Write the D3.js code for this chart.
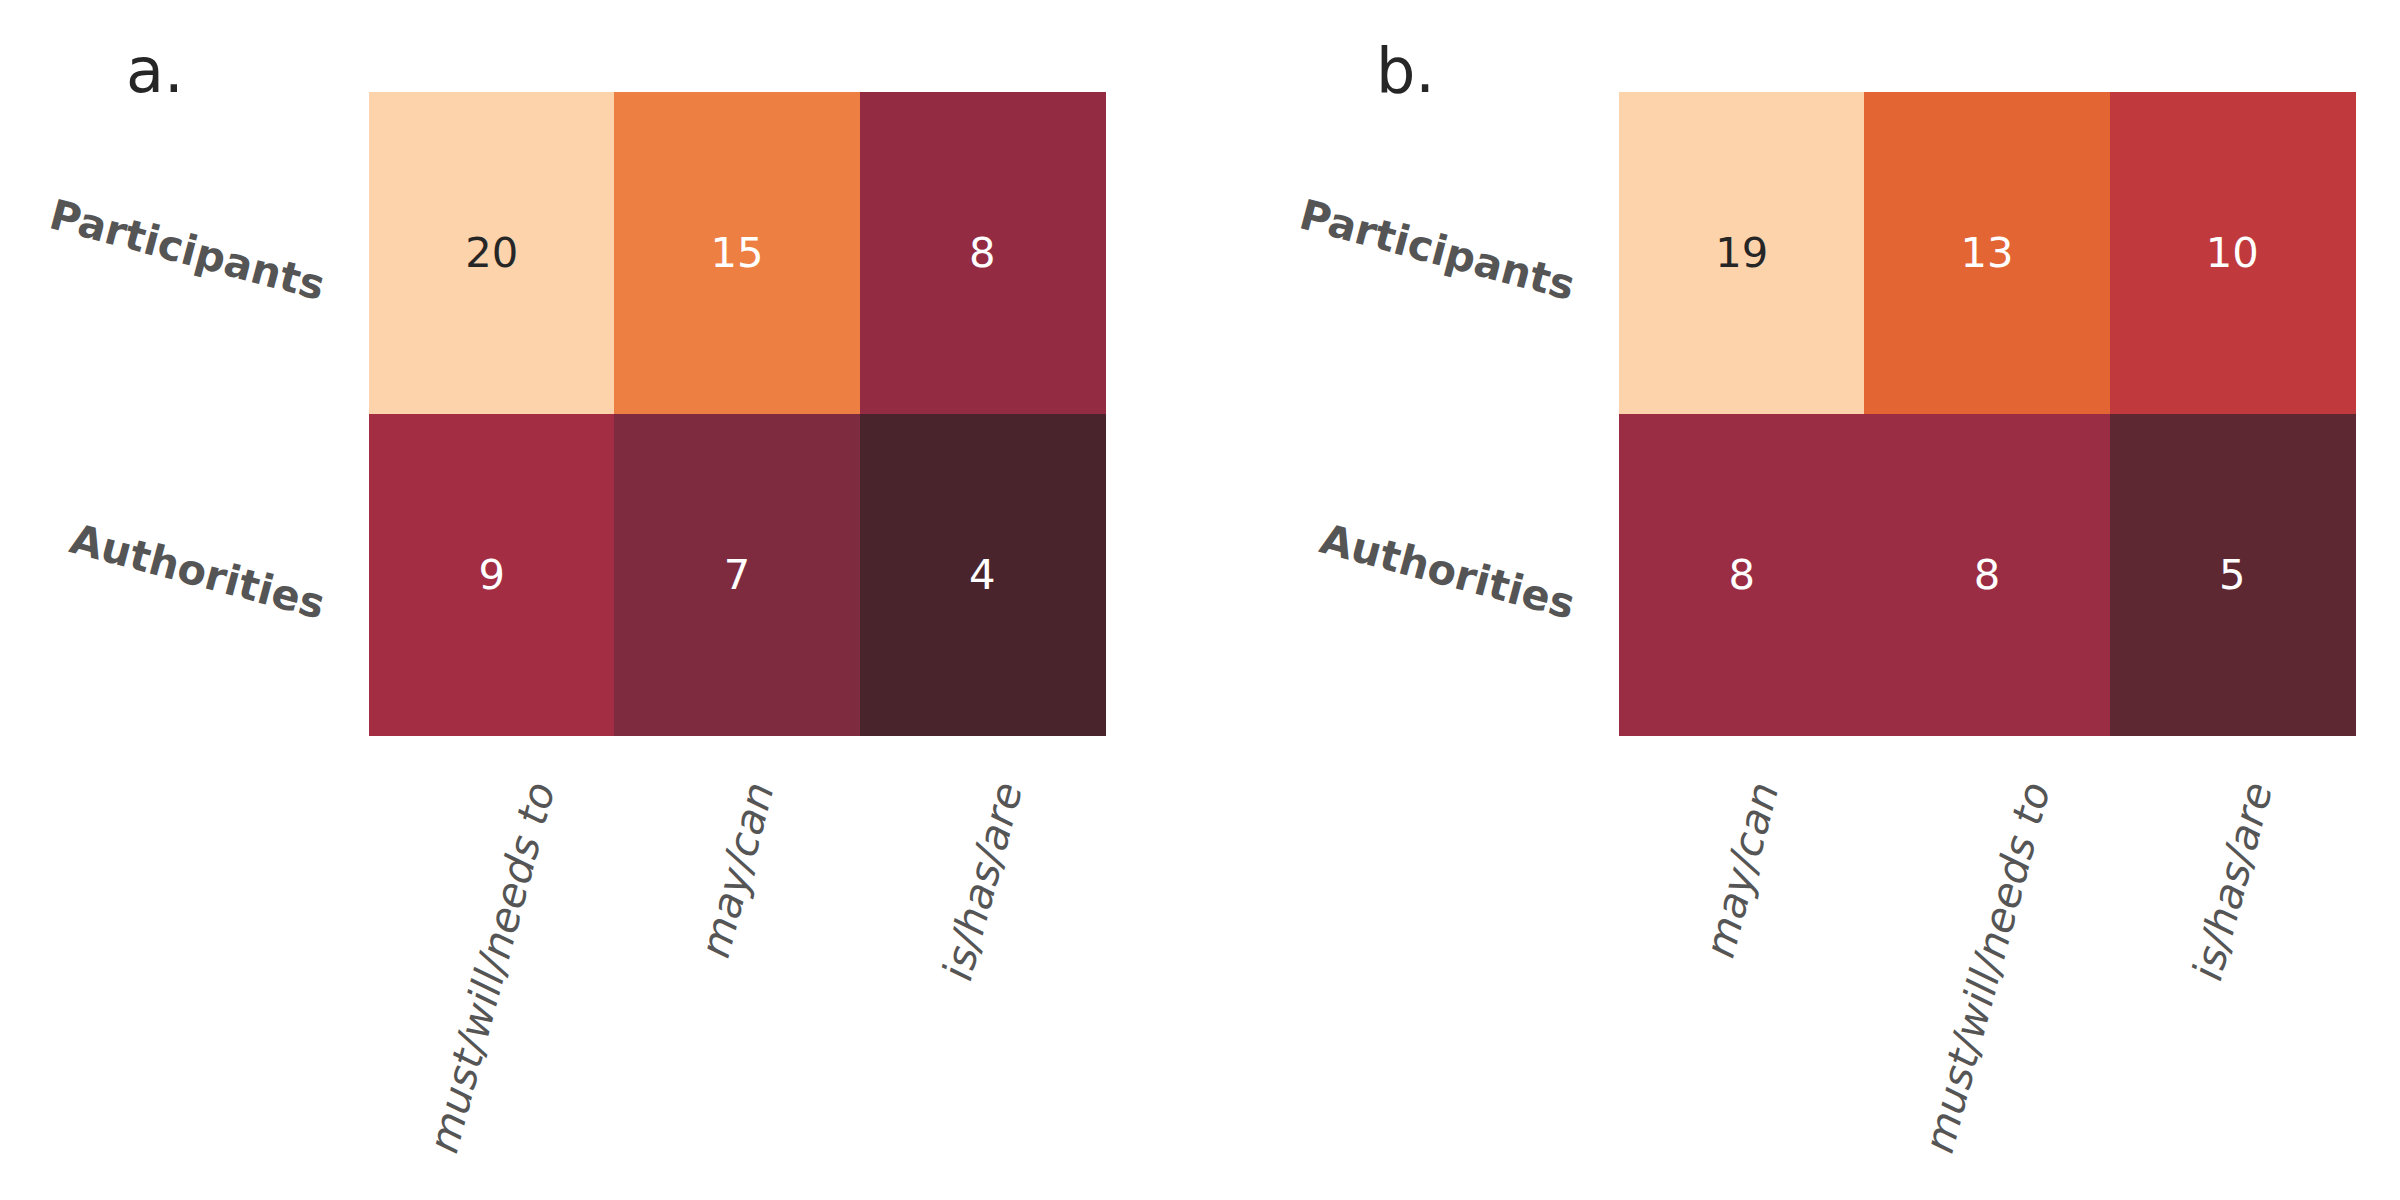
<html lang="en">
<head>
<meta charset="UTF-8">
<title>Heatmaps</title>
<style>
  body { margin: 0; background: #fff; }
  text { font-family: "DejaVu Sans", sans-serif; }
  .cell { shape-rendering: crispEdges; }
  .ylab { font-weight: bold; fill: #555; }
  .xlab { font-style: oblique; fill: #555; }
  .title { fill: #262626; }
</style>
</head>
<body>
<svg></svg>
<script src="https://cdnjs.cloudflare.com/ajax/libs/d3/7.8.5/d3.min.js"></script>
<script>

var rows = ["Participants", "Authorities"];

var colsA = ["must/will/needs to", "may/can", "is/has/are"];
var valuesA = [[20, 15, 8], [9, 7, 4]];

var colsB = ["may/can", "must/will/needs to", "is/has/are"];
var valuesB = [[19, 13, 10], [8, 8, 5]];

var titles = ["a.", "b."];

// colour ramp, position = value / panel max
var rampPos = [0.2, 0.263, 0.35, 0.41, 0.45, 0.526, 0.684, 0.75, 1];
var rampCol = ["#4a242d", "#5e2833", "#7e2b3f", "#972c43", "#a32e44", "#c0393c", "#e36534", "#ee7f42", "#fdd3ac"];

var width = 2400, height = 1200;
var svg = d3.select("svg").attr("width", width).attr("height", height);

var color = d3.scaleLinear().domain(rampPos).range(rampCol).clamp(true);

var panels = [
  { left: 369, cols: colsA, values: valuesA, title: titles[0] },
  { left: 1619, cols: colsB, values: valuesB, title: titles[1] }
];

var mapTop = 92, mapBottom = 735, mapW = 736;
var tickSize = 41.5, annotSize = 41.7;
var s15 = Math.sin(15 * Math.PI / 180), c15 = Math.cos(15 * Math.PI / 180);

panels.forEach(function(p) {

  var g = svg.append("g");
  var maxV = d3.max(p.values, function(r) { return d3.max(r); });

  var x = d3.scaleBand().domain(p.cols).range([p.left, p.left + mapW]);
  var y = d3.scaleBand().domain(rows).range([mapTop, mapBottom]);

  var cells = [];
  p.values.forEach(function(r, i) {
    r.forEach(function(v, j) {
      cells.push({ row: rows[i], col: p.cols[j], v: v });
    });
  });

  g.selectAll("rect.cell")
    .data(cells)
    .enter()
    .append("rect")
      .attr("class", "cell")
      .attr("x", function(d) { return x(d.col); })
      .attr("y", function(d) { return y(d.row); })
      .attr("width", x.bandwidth() + 1)
      .attr("height", y.bandwidth() + 1)
      .attr("fill", function(d) { return color(d.v / maxV); });

  g.selectAll("text.annot")
    .data(cells)
    .enter()
    .append("text")
      .attr("class", "annot")
      .attr("x", function(d) { return x(d.col) + x.bandwidth() / 2; })
      .attr("y", function(d) { return y(d.row) + y.bandwidth() / 2; })
      .attr("text-anchor", "middle")
      .attr("dominant-baseline", "central")
      .style("font-size", annotSize + "px")
      .attr("fill", function(d) { return d.v / maxV > 0.9 ? "#262626" : "#ffffff"; })
      .text(function(d) { return d.v; });

  // y tick labels, rotated -15 (matplotlib sense), bbox centred on row
  g.selectAll("text.ylab")
    .data(rows)
    .enter()
    .append("text")
      .attr("class", "ylab")
      .attr("text-anchor", "end")
      .style("font-size", tickSize + "px")
      .text(function(d) { return d; })
      .attr("transform", function(d) {
        var L = this.getComputedTextLength();
        var cy = y(d) + y.bandwidth() / 2;
        var ty = cy + L * s15 / 2 + 11;
        return "translate(" + (p.left - 49) + "," + ty + ") rotate(15)";
      });

  // x tick labels, rotated 75, bbox centred on column
  g.selectAll("text.xlab")
    .data(p.cols)
    .enter()
    .append("text")
      .attr("class", "xlab")
      .attr("text-anchor", "middle")
      .attr("dominant-baseline", "central")
      .style("font-size", tickSize + "px")
      .text(function(d) { return d; })
      .attr("transform", function(d) {
        var L = this.getComputedTextLength();
        var h = tickSize * 0.8;
        var cx = x(d) + x.bandwidth() / 2;
        var cy = mapBottom + 44 + (L * c15 + h * s15) / 2;
        return "translate(" + cx + "," + cy + ") rotate(-75)";
      });

  g.append("text")
    .attr("class", "title")
    .attr("x", p.left - 243)
    .attr("y", mapTop)
    .style("font-size", "62px")
    .text(p.title);
});

</script>
</body>
</html>
